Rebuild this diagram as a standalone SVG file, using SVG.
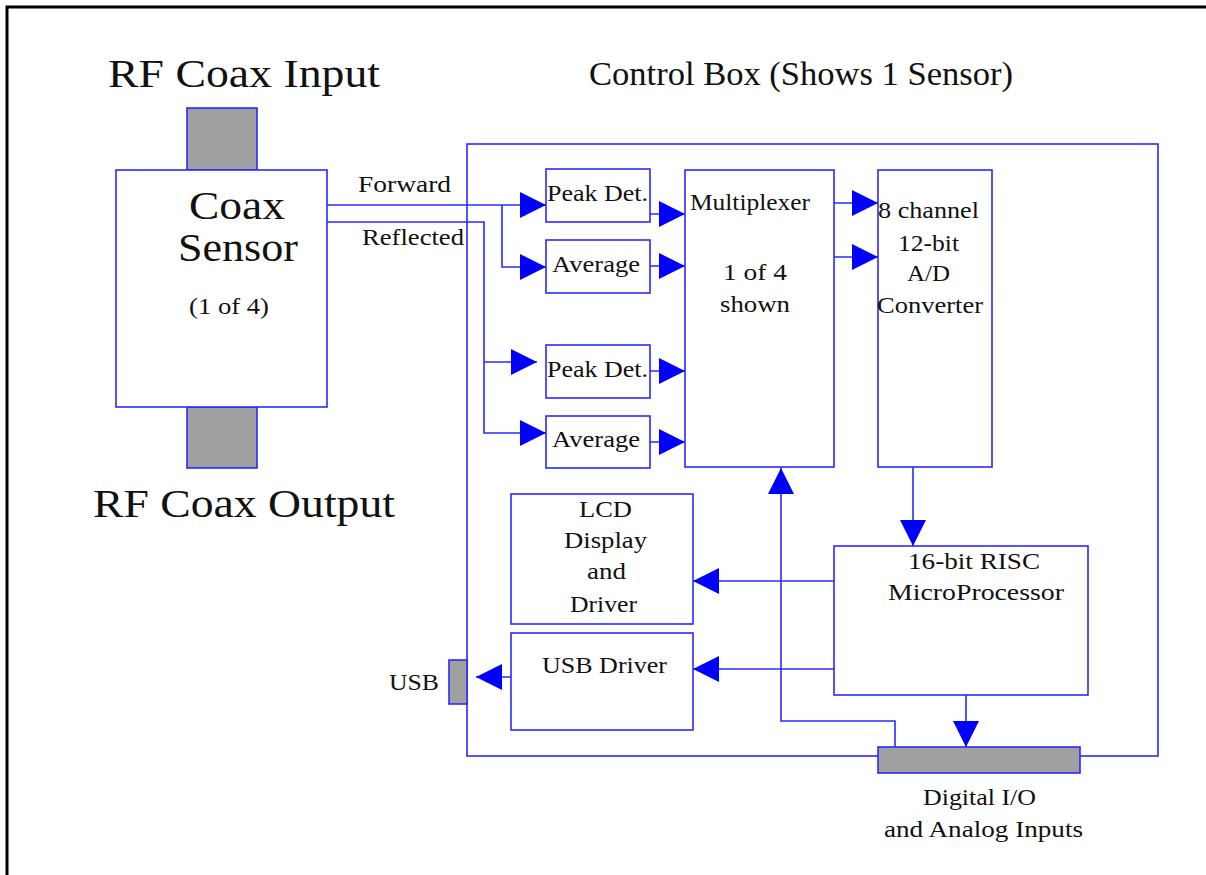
<svg xmlns="http://www.w3.org/2000/svg" width="1206" height="875" viewBox="0 0 1206 875">
<style>
.box{fill:#fff;stroke:#2a2aff;stroke-width:1.6}
.port{fill:#a0a0a0;stroke:#2a2aff;stroke-width:1.6}
.ln{fill:none;stroke:#2a2aff;stroke-width:1.6}
text{font-family:'Liberation Serif','DejaVu Serif',serif;fill:#111;font-size:23px}
.big{font-size:40px}
.ttl{font-size:33px}
</style>
<defs>
<marker id="ah" viewBox="0 0 26 26" refX="26" refY="13" markerWidth="26" markerHeight="26" markerUnits="userSpaceOnUse" orient="auto">
<path d="M0,0 L26,13 L0,26 z" fill="#0000ff"/>
</marker>
</defs>
<rect width="1206" height="875" fill="#fff"/>
<g id="frame">
<path d="M7,875 V7 H1206" fill="none" stroke="#000" stroke-width="3"/>
</g>
<g id="labels" font-family="Liberation Serif, serif">
<text class="big" x="108" y="87" textLength="272" lengthAdjust="spacingAndGlyphs">RF Coax Input</text>
<text class="big" x="93" y="517" textLength="302" lengthAdjust="spacingAndGlyphs">RF Coax Output</text>
<text class="ttl" x="589" y="85" textLength="424" lengthAdjust="spacingAndGlyphs">Control Box (Shows 1 Sensor)</text>
<text x="358" y="192" textLength="93" lengthAdjust="spacingAndGlyphs">Forward</text>
<text x="362" y="245" textLength="102" lengthAdjust="spacingAndGlyphs">Reflected</text>
</g>
<g id="control-box">
<rect class="box" x="467" y="144" width="691" height="612" fill="none"/>
</g>
<g id="coax-input">
<rect class="port" x="187" y="108" width="70" height="62"/>
</g>
<g id="coax-output">
<rect class="port" x="187" y="407" width="70" height="61"/>
</g>
<g id="coax-sensor">
<rect class="box" x="116" y="170" width="211" height="237"/>
<text class="big" x="189" y="219" textLength="96" lengthAdjust="spacingAndGlyphs">Coax</text>
<text class="big" x="178" y="261" textLength="120" lengthAdjust="spacingAndGlyphs">Sensor</text>
<text x="189" y="314" textLength="80" lengthAdjust="spacingAndGlyphs">(1 of 4)</text>
</g>
<g id="peak-det-1">
<rect class="box" x="546" y="169" width="104" height="53"/>
<text x="547" y="201" textLength="101" lengthAdjust="spacingAndGlyphs">Peak Det.</text>
</g>
<g id="average-1">
<rect class="box" x="546" y="240" width="104" height="53"/>
<text x="552" y="272" textLength="88" lengthAdjust="spacingAndGlyphs">Average</text>
</g>
<g id="peak-det-2">
<rect class="box" x="546" y="345" width="104" height="53"/>
<text x="547" y="377" textLength="101" lengthAdjust="spacingAndGlyphs">Peak Det.</text>
</g>
<g id="average-2">
<rect class="box" x="546" y="416" width="104" height="52"/>
<text x="552" y="447" textLength="88" lengthAdjust="spacingAndGlyphs">Average</text>
</g>
<g id="multiplexer">
<rect class="box" x="685" y="170" width="149" height="297"/>
<text x="690" y="210" textLength="120" lengthAdjust="spacingAndGlyphs">Multiplexer</text>
<text x="723" y="280" textLength="64" lengthAdjust="spacingAndGlyphs">1 of 4</text>
<text x="720" y="312" textLength="70" lengthAdjust="spacingAndGlyphs">shown</text>
</g>
<g id="ad-converter">
<rect class="box" x="878" y="170" width="114" height="297"/>
<text x="878" y="218" textLength="101" lengthAdjust="spacingAndGlyphs">8 channel</text>
<text x="898" y="251" textLength="61" lengthAdjust="spacingAndGlyphs">12-bit</text>
<text x="907" y="281" textLength="43" lengthAdjust="spacingAndGlyphs">A/D</text>
<text x="877" y="313" textLength="106" lengthAdjust="spacingAndGlyphs">Converter</text>
</g>
<g id="lcd">
<rect class="box" x="511" y="494" width="182" height="130"/>
<text x="579" y="517" textLength="53" lengthAdjust="spacingAndGlyphs">LCD</text>
<text x="564" y="548" textLength="83" lengthAdjust="spacingAndGlyphs">Display</text>
<text x="587" y="579" textLength="39" lengthAdjust="spacingAndGlyphs">and</text>
<text x="570" y="612" textLength="67" lengthAdjust="spacingAndGlyphs">Driver</text>
</g>
<g id="usb-driver">
<rect class="box" x="511" y="633" width="182" height="97"/>
<text x="542" y="673" textLength="125" lengthAdjust="spacingAndGlyphs">USB Driver</text>
</g>
<g id="usb-port">
<rect class="port" x="449" y="660" width="18" height="44"/>
<text x="389" y="690" textLength="50" lengthAdjust="spacingAndGlyphs">USB</text>
</g>
<g id="microprocessor">
<rect class="box" x="834" y="546" width="254" height="149"/>
<text x="908" y="569" textLength="132" lengthAdjust="spacingAndGlyphs">16-bit RISC</text>
<text x="888" y="600" textLength="176" lengthAdjust="spacingAndGlyphs">MicroProcessor</text>
</g>
<g id="connectors">
<path class="ln" d="M327,205 H546" marker-end="url(#ah)"/>
<path class="ln" d="M502,205 V267 H546" marker-end="url(#ah)"/>
<path class="ln" d="M327,222 H484 V433 H546" marker-end="url(#ah)"/>
<path class="ln" d="M484,362 H537" marker-end="url(#ah)"/>
<path class="ln" d="M650,214 H685" marker-end="url(#ah)"/>
<path class="ln" d="M650,266 H685" marker-end="url(#ah)"/>
<path class="ln" d="M650,371 H685" marker-end="url(#ah)"/>
<path class="ln" d="M650,442 H685" marker-end="url(#ah)"/>
<path class="ln" d="M834,203 H878" marker-end="url(#ah)"/>
<path class="ln" d="M834,257 H878" marker-end="url(#ah)"/>
<path class="ln" d="M913,467 V546" marker-end="url(#ah)"/>
<path class="ln" d="M966,695 V747" marker-end="url(#ah)"/>
<path class="ln" d="M834,581 H693" marker-end="url(#ah)"/>
<path class="ln" d="M834,669 H693" marker-end="url(#ah)"/>
<path class="ln" d="M511,677 H476" marker-end="url(#ah)"/>
<path class="ln" d="M895,747 V721 H781 V468" marker-end="url(#ah)"/>
</g>
<g id="digital-io">
<rect class="port" x="878" y="747" width="202" height="26"/>
<text x="923" y="805" textLength="113" lengthAdjust="spacingAndGlyphs">Digital I/O</text>
<text x="884" y="837" textLength="199" lengthAdjust="spacingAndGlyphs">and Analog Inputs</text>
</g>
</svg>
